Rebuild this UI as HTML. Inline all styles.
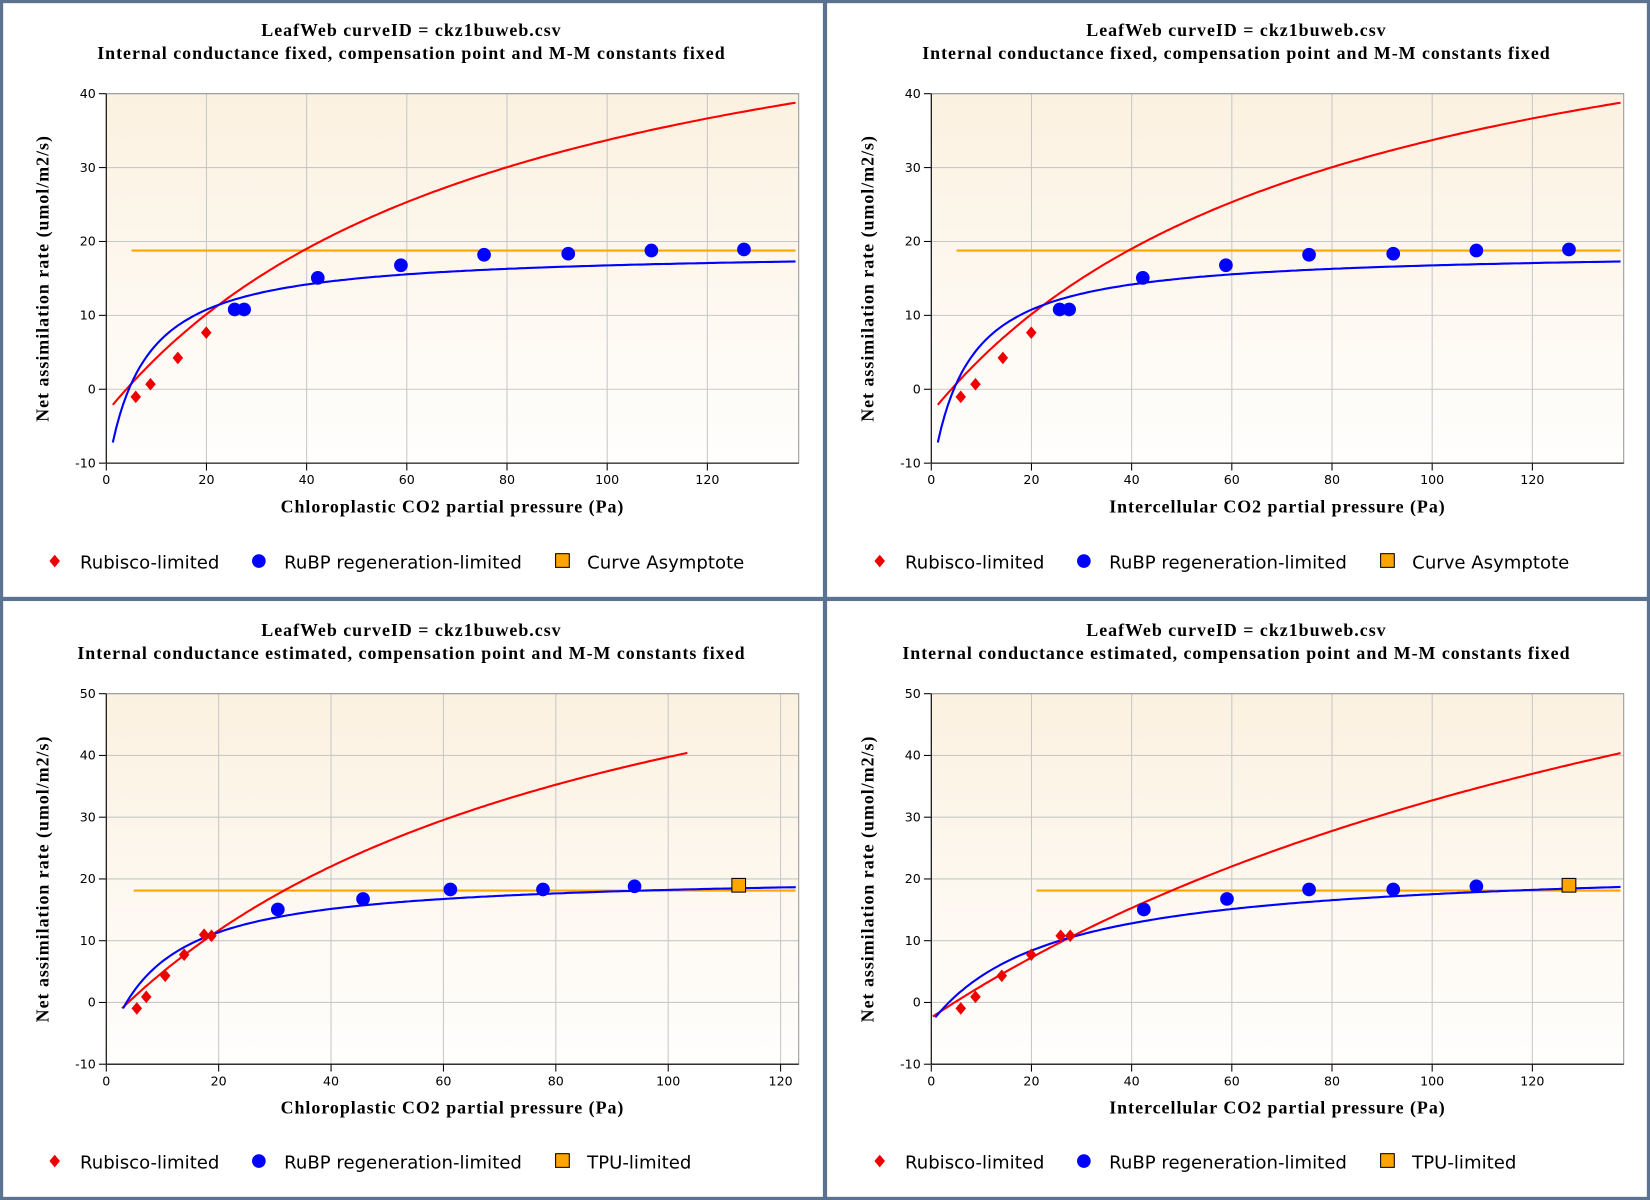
<!DOCTYPE html>
<html><head><meta charset="utf-8">
<style>
html,body{margin:0;padding:0;background:#fff;}
svg{display:block;}
.t{font-family:"Liberation Serif",serif;font-weight:bold;font-size:17px;fill:#000;letter-spacing:0.95px;}
.tk{font-family:"DejaVu Sans","Liberation Sans",sans-serif;font-size:12px;fill:#000;}
.lg{font-family:"DejaVu Sans","Liberation Sans",sans-serif;font-size:17.2px;fill:#000;}
</style></head>
<body>
<svg id="s" width="1650" height="1200" viewBox="0 0 1568 1140" preserveAspectRatio="none" xmlns="http://www.w3.org/2000/svg">
<defs>
<linearGradient id="bg" x1="0" y1="0" x2="0" y2="1">
<stop offset="0" stop-color="#fbf1e0"/><stop offset="1" stop-color="#fffefd"/>
</linearGradient>
</defs>
<g id="g"></g>
<rect x="1.5" y="1.5" width="1565" height="1137" fill="none" stroke="#5b7391" stroke-width="3"/>
<rect x="782" y="0" width="4" height="1140" fill="#5b7391"/>
<rect x="0" y="567" width="1568" height="4" fill="#5b7391"/>
</svg>
<script>
var g=document.getElementById('g');var h='';
function P(c){
 var L=c.L,T=c.T,R=c.R,B=c.B,xs=c.xs;
 function Y(v){return B-(v-c.ymin)*(B-T)/(c.ymax-c.ymin);}
 h+='<rect x="'+L+'" y="'+T+'" width="'+(R-L)+'" height="'+(B-T)+'" fill="url(#bg)"/>';
 for(var v=20;c.ox+v*xs<R;v+=20){var x=c.ox+v*xs;h+='<line x1="'+x+'" y1="'+T+'" x2="'+x+'" y2="'+B+'" stroke="#c8c8c8"/>';}
 for(var v=c.ymin;v<=c.ymax;v+=10){var y=Y(v);h+='<line x1="'+L+'" y1="'+y+'" x2="'+R+'" y2="'+y+'" stroke="#c8c8c8"/><line x1="'+(L-7)+'" y1="'+y+'" x2="'+L+'" y2="'+y+'" stroke="#000"/><text class="tk" x="'+(L-10)+'" y="'+(y+4)+'" text-anchor="end">'+v+'</text>';}
 for(var v=0;c.ox+v*xs<R;v+=20){var x=c.ox+v*xs;h+='<line x1="'+x+'" y1="'+B+'" x2="'+x+'" y2="'+(B+7)+'" stroke="#000"/><text class="tk" x="'+x+'" y="'+(B+20)+'" text-anchor="middle">'+v+'</text>';}
 h+='<rect x="'+L+'" y="'+T+'" width="'+(R-L)+'" height="'+(B-T)+'" fill="none" stroke="#999"/>';
 h+='<line x1="'+L+'" y1="'+T+'" x2="'+L+'" y2="'+B+'" stroke="#000"/><line x1="'+L+'" y1="'+B+'" x2="'+R+'" y2="'+B+'" stroke="#000"/>';
 var cx=c.pl+391;
 h+='<text class="t" x="'+cx+'" y="'+(c.pt+34)+'" text-anchor="middle">LeafWeb curveID = ckz1buweb.csv</text>';
 h+='<text class="t" x="'+cx+'" y="'+(c.pt+56)+'" text-anchor="middle">'+c.sub+'</text>';
 h+='<text class="t" x="'+((L+R)/2)+'" y="'+(B+47)+'" text-anchor="middle">'+c.xl+'</text>';
 var my=(T+B)/2;h+='<text class="t" transform="translate('+(L-55)+','+my+') rotate(-90)" text-anchor="middle">Net assimilation rate (umol/m2/s)</text>';
 function curve(f,a,b,col){var d='';for(var i=0;i<=200;i++){var v=a+(b-a)*i/200;d+=(i?'L':'M')+(c.ox+v*xs).toFixed(1)+','+Y(f(v)).toFixed(1);}h+='<path d="'+d+'" fill="none" stroke="'+col+'" stroke-width="2"/>';}
 h+='<line x1="'+c.o[0]+'" y1="'+c.o[2]+'" x2="'+c.o[1]+'" y2="'+c.o[2]+'" stroke="#ffa500" stroke-width="2"/>';
 curve(c.red,c.r[0],c.r[1],'#f00');
 curve(c.blue,c.b[0],c.b[1],'#00f');
 c.rp.forEach(function(p){var x=p[0]+c.dx,y=p[1];h+='<path d="M'+x+','+(y-6)+'L'+(x+5)+','+y+'L'+x+','+(y+6)+'L'+(x-5)+','+y+'Z" fill="#e00" />';});
 c.bp.forEach(function(p){h+='<circle cx="'+(p[0]+c.dx)+'" cy="'+p[1]+'" r="6.5" fill="#00f"/>';});
 if(c.sq){h+='<rect x="'+(c.sq[0]-6.5)+'" y="'+(c.sq[1]-6.5)+'" width="13" height="13" fill="#ffa500" stroke="#000"/>';}
 var ly=c.pt+533,lx=c.pl;
 h+='<path d="M'+(lx+52)+','+(ly-6)+'L'+(lx+57)+','+ly+'L'+(lx+52)+','+(ly+6)+'L'+(lx+47)+','+ly+'Z" fill="#e00"/><text class="lg" x="'+(lx+76)+'" y="'+(ly+7)+'">Rubisco-limited</text>';
 h+='<circle cx="'+(lx+246)+'" cy="'+ly+'" r="6.5" fill="#00f"/><text class="lg" x="'+(lx+270)+'" y="'+(ly+7)+'">RuBP regeneration-limited</text>';
 h+='<rect x="'+(lx+528)+'" y="'+(ly-7)+'" width="13" height="13" fill="#ffa500" stroke="#000"/><text class="lg" x="'+(lx+558)+'" y="'+(ly+7)+'">'+c.leg3+'</text>';
}
var rp1=[[129,377],[143,365],[169,340],[196,316]];
var bp1=[[223,294],[232,294],[302,264],[381,252],[460,242],[540,241],[619,238],[707,237]];
var r1=function(C){return 62.9*(C-4)/(C+79.1);},b1=function(C){return 18.79*(C-4.5)/(C+7.05);};
[0,784].forEach(function(dx,i){
 P({pl:dx,pt:0,L:101+dx,T:89,R:759+dx,B:440,ox:101+dx,xs:4.76,ymin:-10,ymax:40,
 sub:'Internal conductance fixed, compensation point and M-M constants fixed',
 xl:i?'Intercellular CO2 partial pressure (Pa)':'Chloroplastic CO2 partial pressure (Pa)',
 red:r1,r:[1.3,137.6],blue:b1,b:[1.3,137.6],o:[125+dx,756+dx,238],rp:rp1,bp:bp1,dx:dx,leg3:'Curve Asymptote'});
});
P({pl:0,pt:570,L:101,T:659,R:759,B:1011,ox:101,xs:5.34,ymin:-10,ymax:50,
 sub:'Internal conductance estimated, compensation point and M-M constants fixed',
 xl:'Chloroplastic CO2 partial pressure (Pa)',
 red:function(C){return 77*(C-3.9)/(C+86.2);},r:[2.8,103.4],
 blue:function(C){return 20.8*(C-3.6)/(C+10);},b:[3,122.7],o:[127,756,846],
 rp:[[130,958],[139,947],[157,927],[175,907],[194,888],[201,889]],
 bp:[[264,864],[345,854],[428,845],[516,845],[603,842]],sq:[702,841],dx:0,leg3:'TPU-limited'});
P({pl:784,pt:570,L:885,T:659,R:1543,B:1011,ox:885,xs:4.76,ymin:-10,ymax:50,
 sub:'Internal conductance estimated, compensation point and M-M constants fixed',
 xl:'Intercellular CO2 partial pressure (Pa)',
 red:function(C){return 99.5*(C-4.65)/(C+190);},r:[0.3,137.6],
 blue:function(C){return 22.6*(C-3.5)/(C+24.4);},b:[0.8,137.6],o:[985,1540,846],
 rp:[[913,958],[927,947],[952,927],[980,907],[1008,889],[1017,889]],
 bp:[[1087,864],[1166,854],[1244,845],[1324,845],[1403,842]],sq:[1491,841],dx:0,leg3:'TPU-limited'});
g.innerHTML=h;
</script>
</body></html>
